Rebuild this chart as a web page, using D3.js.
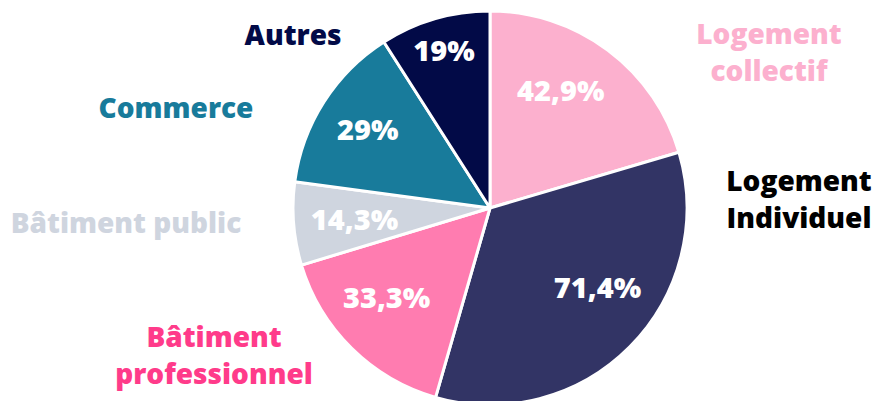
<!DOCTYPE html>
<html>
<head>
<meta charset="utf-8">
<script src="https://cdn.jsdelivr.net/npm/d3@7"></script>
<style>
  html, body { margin: 0; padding: 0; background: #ffffff; }
  svg text { font-family: "Open Sans", "Lato", sans-serif; font-weight: 800; }
</style>
</head>
<body>
<svg id="chart" width="877" height="401"></svg>
<script>
// ---- data ----
const categories = ["Logement collectif", "Logement Individuel", "Bâtiment professionnel", "Bâtiment public", "Commerce", "Autres"];
const values = [42.9, 71.4, 33.3, 14.3, 29, 19];
const sliceColors = ["#fcb0ce", "#323465", "#ff7cb0", "#cfd5df", "#187b9b", "#020a47"];
const labelColors = ["#fcb0ce", "#000000", "#ff3b8a", "#cfd5df", "#187b9b", "#020a47"];
const labelLines = [["Logement", "collectif"], ["Logement", "Individuel"], ["Bâtiment", "professionnel"], ["Bâtiment public"], ["Commerce"], ["Autres"]];

// ---- layout ----
const W = 877, H = 401;
const cx = 490, cy = 208, R = 197;
const pctRadius = [137, 134, 137, 136, 145, 164];
const pctAngleShift = [-5.7, -8.2, 4.4, -0.3, 0, 0]; // degrees
const outerPos = [[769, 44], [799, 191], [214, 347], [126, 233], [176, 118], [293, 45]];
const lineGap = 37;

const svg = d3.select("#chart");
const g = svg.append("g").attr("transform", `translate(${cx},${cy})`);

const pie = d3.pie().sort(null).value(d => d.v);
const data = values.map((v, i) => ({ v, i }));
const arcs = pie(data);
const arc = d3.arc().innerRadius(0).outerRadius(R);

g.selectAll("path.slice")
  .data(arcs)
  .join("path")
  .attr("class", "slice")
  .attr("d", arc)
  .attr("fill", d => sliceColors[d.data.i])
  .attr("stroke", "#ffffff")
  .attr("stroke-width", 3)
  .attr("stroke-linejoin", "round");

const fmt = v => String(v).replace(".", ",") + "%";

g.selectAll("text.pct")
  .data(arcs)
  .join("text")
  .attr("class", "pct")
  .attr("transform", d => {
    const a = (d.startAngle + d.endAngle) / 2 + pctAngleShift[d.data.i] * Math.PI / 180;
    const r = pctRadius[d.data.i];
    return `translate(${Math.sin(a) * r},${-Math.cos(a) * r})`;
  })
  .attr("text-anchor", "middle")
  .attr("dy", "0.35em")
  .attr("fill", "#ffffff")
  .style("font-size", "29px")
  .text(d => fmt(d.data.v));

const lab = svg.selectAll("text.cat")
  .data(categories)
  .join("text")
  .attr("class", "cat")
  .attr("x", (d, i) => outerPos[i][0])
  .attr("y", (d, i) => outerPos[i][1])
  .attr("text-anchor", "middle")
  .attr("fill", (d, i) => labelColors[i])
  .style("font-size", "28px");

lab.each(function(d, i) {
  const t = d3.select(this);
  labelLines[i].forEach((ln, k) => {
    t.append("tspan")
      .attr("x", outerPos[i][0])
      .attr("dy", k === 0 ? 0 : lineGap)
      .text(ln);
  });
});
</script>
</body>
</html>
